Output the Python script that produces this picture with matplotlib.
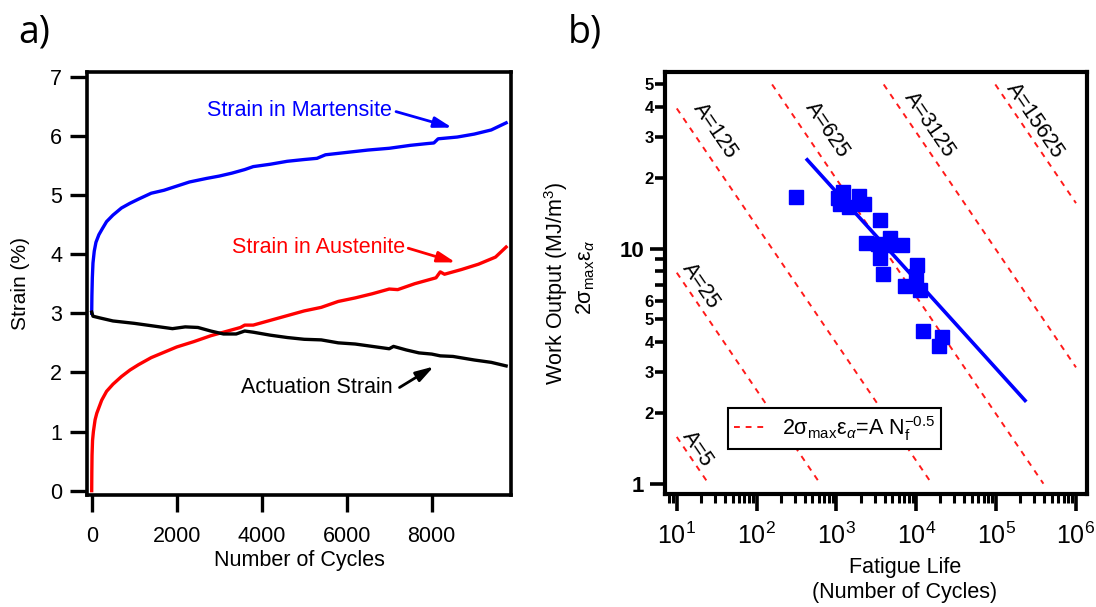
import numpy as np
import matplotlib.pyplot as plt
from matplotlib.ticker import FixedLocator, FuncFormatter, LogLocator, NullFormatter

plt.rcParams['font.family'] = ['Liberation Sans', 'DejaVu Sans']
plt.rcParams['mathtext.fontset'] = 'custom'
plt.rcParams['mathtext.rm'] = 'Liberation Sans'
plt.rcParams['mathtext.it'] = 'Liberation Sans:italic'
plt.rcParams['mathtext.bf'] = 'Liberation Sans:bold'

# ---- panel a: strain vs cycles ----
mart_cycles = [0, 5, 15, 30, 60, 100, 170, 250, 350, 500, 700, 900, 1100, 1400, 1700,
               2000, 2300, 2700, 3000, 3300, 3600, 3800, 4200, 4600, 5000, 5300, 5500,
               6000, 6500, 7000, 7500, 7900, 8050, 8150, 8600, 9000, 9400, 9750]
mart_strain = [3.0, 3.3, 3.6, 3.85, 4.05, 4.2, 4.33, 4.43, 4.55, 4.66, 4.78, 4.86, 4.93,
               5.03, 5.08, 5.15, 5.22, 5.28, 5.32, 5.37, 5.43, 5.48, 5.52, 5.57, 5.60,
               5.62, 5.68, 5.72, 5.76, 5.79, 5.84, 5.87, 5.88, 5.95, 5.98, 6.03, 6.10, 6.22]

aus_cycles = [0, 3, 8, 20, 40, 80, 120, 235, 350, 500, 700, 900, 1100, 1400, 1700, 2000,
              2400, 2800, 3200, 3500, 3600, 3800, 4200, 4600, 5000, 5400, 5800, 6200,
              6600, 7000, 7200, 7600, 8000, 8100, 8200, 8300, 8700, 9100, 9500, 9750]
aus_strain = [0.0, 0.3, 0.6, 0.85, 1.0, 1.2, 1.31, 1.53, 1.68, 1.8, 1.93, 2.04, 2.13,
              2.25, 2.34, 2.43, 2.52, 2.62, 2.70, 2.76, 2.80, 2.80, 2.88, 2.96, 3.04,
              3.10, 3.20, 3.26, 3.33, 3.41, 3.40, 3.50, 3.58, 3.60, 3.70, 3.66, 3.74,
              3.83, 3.95, 4.12]

act_cycles = [0, 30, 200, 500, 1000, 1500, 1900, 2200, 2500, 2800, 3100, 3400, 3600,
              3800, 4200, 4600, 5000, 5400, 5800, 6200, 6600, 7000, 7100, 7400, 7700,
              8000, 8200, 8500, 9000, 9400, 9750]
act_strain = [3.02, 2.95, 2.92, 2.87, 2.83, 2.78, 2.74, 2.77, 2.76, 2.70, 2.65, 2.65,
              2.70, 2.68, 2.63, 2.59, 2.56, 2.55, 2.50, 2.48, 2.44, 2.40, 2.44, 2.38,
              2.33, 2.31, 2.28, 2.27, 2.21, 2.17, 2.11]

# ---- panel b: work output vs fatigue life ----
life = [310, 1060, 1200, 1110, 1455, 1890, 2240, 3460, 2360, 3360, 4710, 4290, 6600,
        3530, 3810, 10180, 10000, 7260, 11200, 12300, 20900, 19500]
work = [16.6, 16.4, 17.4, 15.5, 15.1, 16.8, 15.5, 13.2, 10.6, 10.5, 11.1, 10.4, 10.4,
        9.13, 7.83, 8.55, 7.63, 6.96, 6.69, 4.45, 4.21, 3.87]
fit_life = [430, 2.3e5]
fit_work = [23.9, 2.26]
A_values = [5, 25, 125, 625, 3125, 15625]
label_life = [18, 19.7, 30.2, 760, 14450, 3.09e5]
label_work = [1.40, 6.94, 31.9, 32.2, 33.7, 35.2]

fig = plt.figure(figsize=(10.96, 6.07), dpi=100)

# ================= panel a =================
ax1 = fig.add_axes([0.0794, 0.1845, 0.3869, 0.6969])
ax1.plot(mart_cycles, mart_strain, color='#0000ff', lw=2.4)
ax1.plot(aus_cycles, aus_strain, color='#ff0000', lw=2.4)
ax1.plot(act_cycles, act_strain, color='black', lw=2.4)
ax1.set_xlim(-110, 9866)
ax1.set_ylim(-0.073, 7.08)
ax1.set_xticks([0, 2000, 4000, 6000, 8000])
ax1.set_yticks(range(8))
for s in ax1.spines.values():
    s.set_linewidth(2.6)
ax1.tick_params(axis='y', direction='out', length=12.5, width=2.4, pad=5.5, labelsize=15.5)
ax1.tick_params(axis='x', direction='out', length=12, width=2.4, pad=10, labelsize=15.5)
ax1.set_xlabel('Number of Cycles', fontsize=15.5, va='center')
ax1.xaxis.set_label_coords(0.5, -0.154)
ax1.set_ylabel('Strain (%)', fontsize=15, va='center')
ax1.yaxis.set_label_coords(-0.158, 0.5)

arrow = dict(arrowstyle='-|>,head_length=0.6,head_width=0.18', lw=2, shrinkA=0, shrinkB=0,
             mutation_scale=18)
ax1.text(2713, 6.43, 'Strain in Martensite', color='#0000ff', fontsize=15.5, va='center')
ax1.annotate('', xy=(8478, 6.14), xytext=(7160, 6.41),
             arrowprops=dict(arrow, color='#0000ff'))
ax1.text(3301, 4.12, 'Strain in Austenite', color='#ff0000', fontsize=15.5, va='center')
ax1.annotate('', xy=(8560, 3.86), xytext=(7447, 4.10),
             arrowprops=dict(arrow, color='#ff0000'))
ax1.text(3508, 1.745, 'Actuation Strain', color='black', fontsize=15.5, va='center')
ax1.annotate('', xy=(8049, 2.10), xytext=(7242, 1.745),
             arrowprops=dict(arrow, color='black'))

# ================= panel b =================
ax2 = fig.add_axes([0.6068, 0.1862, 0.3850, 0.6952])
ax2.set_xscale('log')
ax2.set_yscale('log')
ax2.set_xlim(7.13, 1.374e6)
ax2.set_ylim(0.904, 56.5)

for i, A in enumerate(A_values):
    n_lo = max(10, (A / 50.0) ** 2)
    n_hi = min(1e6, A ** 2)
    n = np.logspace(np.log10(n_lo), np.log10(n_hi), 50)
    ax2.plot(n, A / np.sqrt(n), color='#ff1a1a', lw=1.4, dashes=(3, 3),
             label=r'2σ$_{\mathregular{max}}$ε$_{α}$=A N$_{\mathregular{f}}^{\mathregular{-0.5}}$' if i == 0 else None)

ax2.plot(fit_life, fit_work, color='#0000ff', lw=2.6)
ax2.plot(life, work, 's', color='#0000ff', ms=9.5, mec='#0000ff')

# rotated "A=" labels follow the slope of the dashed lines
p0 = ax2.transData.transform((10, 1.0))
p1 = ax2.transData.transform((1000, 0.1))
angle = np.degrees(np.arctan2(p1[1] - p0[1], p1[0] - p0[0]))
for A, lx, ly in zip(A_values, label_life, label_work):
    ax2.text(lx, ly, 'A=%d' % A, fontsize=15.5, rotation=angle, rotation_mode='anchor',
             ha='center', va='center')

leg = ax2.legend(loc='center', bbox_to_anchor=(0.402, 0.155), fontsize=15.5,
                 fancybox=False, framealpha=1, edgecolor='black',
                 handlelength=1.5, handletextpad=0.7, borderpad=0.3)
leg.get_frame().set_linewidth(1.5)

for s in ax2.spines.values():
    s.set_linewidth(3)

ax2.yaxis.set_major_locator(FixedLocator([1, 10]))
ax2.yaxis.set_major_formatter(FuncFormatter(lambda v, p: '%d' % round(v)))
ax2.yaxis.set_minor_locator(LogLocator(base=10, subs=range(2, 10)))


def minor_label(v, pos):
    m = int(round(v / 10 ** np.floor(np.log10(v) + 1e-9)))
    return str(m) if m in (2, 3, 4, 5, 6) else ''


ax2.yaxis.set_minor_formatter(FuncFormatter(minor_label))
ax2.xaxis.set_major_locator(LogLocator(base=10, numticks=10))
ax2.xaxis.set_minor_locator(LogLocator(base=10, subs=range(2, 10), numticks=20))
ax2.xaxis.set_minor_formatter(NullFormatter())

ax2.tick_params(axis='y', which='major', direction='out', length=11, width=2.6, pad=4,
                labelsize=16)
ax2.tick_params(axis='y', which='minor', direction='out', length=7, width=2.6, pad=1.2,
                labelsize=12)
for lab in ax2.yaxis.get_minorticklabels() + ax2.yaxis.get_majorticklabels():
    lab.set_fontweight('bold')
ax2.tick_params(axis='x', which='major', direction='out', length=12.5, width=2.6, pad=8,
                labelsize=18)
ax2.tick_params(axis='x', which='minor', direction='out', length=6.5, width=2.2)

fig.text(905 / 1096, 1 - 580 / 607, 'Fatigue Life\n(Number of Cycles)', fontsize=15.5,
         ha='center', va='center', linespacing=1.2)
fig.text(556 / 1096, 1 - 283 / 607, r'Work Output (MJ/m$^{3}$)', fontsize=15.5,
         rotation=90, ha='center', va='center')
fig.text(586 / 1096, 1 - 277 / 607, r'2σ$_{\mathregular{max}}$ε$_{α}$', fontsize=15.5,
         rotation=90, ha='center', va='center')

fig.text(18 / 1096, 1 - 43 / 607, 'a)', fontsize=27, family='Open Sans', va='baseline')
fig.text(568 / 1096, 1 - 43 / 607, 'b)', fontsize=27, family='Open Sans', va='baseline')

fig.savefig('out.png', dpi=100)
